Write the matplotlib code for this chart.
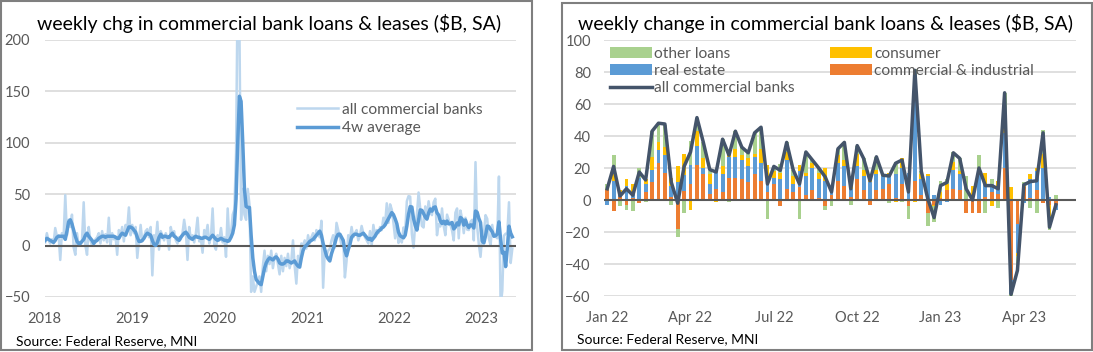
import matplotlib
matplotlib.use("Agg")
import matplotlib.pyplot as plt
from matplotlib.patches import Rectangle
import numpy as np
import pandas as pd

plt.rcParams['font.family'] = ['Lato', 'DejaVu Sans']

# left chart: weekly change in loans & leases, all commercial banks ($B), from 2018-01-03
raw_2018_2021 = [
    3, 12, 5, 2, 6, 2, 17, 9, 10, -14,
    12, 8, 49, 10, 25, 18, 30, -2, -9, 12,
    0, 2, 5, 42, 0, -9, 18, 5, 0, 3,
    6, 8, 12, 2, 14, 5, 11, 3, 27, 0,
    12, 6, 9, -9, 15, 10, 18, 4, 20, 16,
    37, 10, 20, 12, 18, -12, 5, 20, 4, 8,
    14, 16, 8, 18, -29, 10, 4, 23, -4, 14,
    10, 5, 12, 8, -4, 18, 10, 14, 5, 2,
    8, 6, 12, 25, 14, -14, 18, 6, 10, 3,
    12, 27, 4, 6, -7, 15, 10, 20, 2, 8,
    36, 0, -4, 10, 5, 17, 3, 8, -11, 36,
    4, 12, 30, 35, 90, 260, 215, 25, 55, 30,
    25, 55, 40, -45, -30, -45, -40, -35, -30, -45,
    -20, -5, -25, -10, -18, -5, -22, -12, -8, -18,
    -28, -10, -25, -12, -20, -8, -22, -15, 5, -20,
    -37, -10, -18, 2, 0, 5, -3, 10, 2, 8,
    12, 5, 15, 12, 8, 24, -41, -5, -10, -5,
    -3, 5, 10, -2, 22, 15, 8, 0, 5, -31,
    -15, 10, 5, 18, 8, 12, 15, 5, 10, 19,
    12, 8, 5, 2, 14, 0, 20, 10, 15, 12,
    18, 15, 27, 20, 41, 22, 40, 35, 22,
]
avg_4w = [
    5, 7, 6, 5, 4, 3, 5, 8, 9, 9,
    9, 9, 6, 14, 23, 25, 21, 15, 9, 4,
    2, 2, 4, 6, 10, 12, 9, 7, 5, 2,
    4, 5, 7, 8, 9, 9, 8, 9, 9, 9,
    9, 9, 8, 7, 7, 10, 12, 11, 10, 14,
    18, 18, 17, 15, 13, 8, 4, 4, 5, 7,
    10, 12, 11, 10, 5, 1, 0, 3, 8, 11,
    8, 9, 9, 8, 8, 10, 12, 9, 8, 6,
    5, 8, 10, 12, 13, 11, 8, 7, 6, 8,
    9, 8, 8, 7, 7, 8, 8, 7, 6, 8,
    10, 8, 6, 5, 6, 7, 6, 5, 5, 4,
    5, 8, 12, 20, 45, 100, 145, 140, 100, 55,
    38, 37, 37, 10, -12, -25, -33, -35, -37, -38,
    -30, -22, -17, -14, -12, -13, -14, -12, -11, -13,
    -17, -18, -18, -17, -15, -15, -16, -17, -16, -15,
    -18, -20, -21, -12, -5, -1, 0, 2, 4, 5,
    6, 8, 10, 12, 14, 10, 2, -4, -10, -13,
    -15, -8, -3, 2, 8, 11, 11, 8, 5, -5,
    -10, -4, 1, 8, 10, 11, 11, 10, 10, 11,
    12, 10, 8, 6, 7, 5, 7, 9, 12, 14,
    15, 17, 18, 20, 23, 26, 29, 32, 30,
    26, 21.3, 13.1,
    9.4, 8.4, 7.5, 10, 19, 30.3, 37.8, 37.4, 26.1, 19.4,
    15, 25.1, 34.6, 34.1, 31, 27.6, 25.6, 31.6, 35.5, 33.4,
    36.9, 37.5, 31.8, 29.6, 23.8, 21.4, 23.6, 20.9, 23.8, 21,
    21.3, 22.4, 16.1, 17.9, 21.9, 20, 27.3, 25.8, 19.8, 24.8,
    20.1, 17.4, 20.1, 19.6, 17, 33.5, 32.3, 26.3, 22.3, 4.3,
    2.5, 9.6, 18.9, 18.4, 15.6, 13.3, 9, 9.5, 11.3, 23,
    6, -7.3, -6.6, -20.5, -2.8, 18.8, 12.1, 8.5,
]
left_years = [2018, 2019, 2020, 2021, 2022, 2023]

# right chart: weekly change by loan type ($B), from 2022-01-05
all_banks = [
    7, 21, 2.5, 7, 3, 17.5, 12.5, 43, 48, 47.5,
    11, -2, 21, 30, 51.5, 36, 19, 17.5, 38, 28,
    43, 33, 29.5, 42, 45.5, 10, 21, 18.5, 36, 19,
    10, 30, 25, 20, 14.5, 5, 32, 36, 7, 34,
    26, 12, 27, 15.5, 15, 23, 25, 5, 81, 18,
    1, -11, 9, 11, 29.5, 26, 7, 0, 20, 9,
    9, 7, 67, -59, -44, 9.5, 11.5, 12, 42, -17, -3,
]
ci_loans = [
    6, -7, 2, -3, 1, -2, 5, 11, 23, 17,
    2, -18, 5.5, 10, 22, 16, 4, 7, 5, 14,
    14, 13, 11, 16, 12, 5, 10, -4, 7, 5,
    8, 3, 6, 1, -4, 3, 12, 9, 2, 13,
    6, -3, 6, 7, 10, 1, 10, -4, 12, 3,
    -8, -3, 1, 6, 7, 6, -8, -8, -8, 2,
    5, 4, 20, -50, -15, 8, 1, 6, -2, -3, -3,
]
real_estate = [
    -3, 12, 3, 9, 3, 14, 5, 8, 8, 11,
    7, 11, 10, 12, 12, 4, 6, 10, 11, 13,
    13, 12, 10, 11, 11, 5, 4, 13, 18, 5,
    10, 12, 14, 12, 12, 4, 11, 12, 5, 8,
    9, 11, 10, 8, 5, 15, 10, 17, 66, 10,
    15, 3, -3, -1, 12, 10, 0, 3, 18, 8,
    5, 5, 22, -9, -18, -2, 12, 12, 20, 2, -3,
]
consumer = [
    1, 4, 1, 4, 6, 0, 3, 8, 5, 5,
    5, 10, 13, -6, 9, 6, 6, -1, 5, 2,
    5, 3, 5, 2, 9, 12, 4, 4, 5, 5,
    4, 2, 3, 4, 8, 2, 5, 4, 3, 8,
    4, 2, 3, 1, 2, -1, 6, 0, -1, 3,
    1, -1, 4, 4, 5, 2, 0, 6, 2, 7,
    -4, 3, 3, 8, -2, 1, 3, 2, 9, -7, 0,
]
other_loans = [
    3, 12, -4, -3, -7, 6, -1, 16, 12, 14,
    -3, -5, -8, 15, 8, 10, 2, 1.5, 17, -1,
    11, 5, 4, 13, 13, -12, 3, 5.5, 6, 4,
    -12, 13, 2, 3, -2, -4, 4, 11, -3, 5,
    7, 2, 8, -0.5, -2, 8, -1, -8, 4, 2,
    -8, -10, 7, 3, 6, 8, 15, 0, 8, -8,
    3, -5, 22, -8, -9, 2, -5, -8, 15, -9, 3,
]
right_labels = ["Jan 22", "Apr 22", "Jul 22", "Oct 22", "Jan 23", "Apr 23"]
right_label_pos = [0, 13, 26, 39, 52, 65]

GRID = '#D9D9D9'
AXIS = '#595959'
TXT = '#595959'
W, H = 1093, 352


def fx(px):
    return px / W


def fy(py):
    return 1 - py / H


def style_axes(ax, ypad):
    for s in ax.spines.values():
        s.set_visible(False)
    ax.tick_params(length=0, labelsize=10.5, labelcolor=TXT)
    ax.tick_params(axis='y', pad=ypad)
    ax.tick_params(axis='x', pad=10.5)
    ax.grid(axis='y', color=GRID, linewidth=1.2, zorder=0)
    ax.set_axisbelow(True)
    ax.axhline(0, color=AXIS, linewidth=1.5, zorder=2.5)


fig = plt.figure(figsize=(W / 100, H / 100), dpi=100)

# panel frames
fig.patches.append(Rectangle((fx(1), fy(350)), fx(531), 349 / H, transform=fig.transFigure,
                             fill=False, edgecolor='#7F7F7F', linewidth=1.5))
fig.patches.append(Rectangle((fx(561.5), fy(349.5)), fx(530), 347 / H, transform=fig.transFigure,
                             fill=False, edgecolor='#7F7F7F', linewidth=1.5))

# ---------------- left chart
ax1 = fig.add_axes([fx(44.7), fy(297), fx(516.4 - 44.7), (297 - 39.6) / H])
raw_all = raw_2018_2021 + all_banks
dates = pd.date_range('2018-01-03', periods=len(raw_all), freq='7D')
ax1.plot(dates, raw_all, color='#BDD7EE', linewidth=1.8, zorder=2,
         solid_joinstyle='round', label='all commercial banks')
ax1.plot(dates[:len(avg_4w)], avg_4w, color='#5B9BD5', linewidth=2.5, zorder=3,
         solid_joinstyle='round', label='4w average')
ax1.set_xlim(pd.Timestamp('2018-01-01'), pd.Timestamp('2023-05-27'))
ax1.set_ylim(-50, 200)
ax1.set_yticks(np.arange(-50, 201, 50))
ax1.set_xticks([pd.Timestamp(f'{y}-01-01') for y in left_years])
ax1.set_xticklabels([str(y) for y in left_years])
style_axes(ax1, 10.5)
ax1.legend(loc='upper left', bbox_to_anchor=(fx(297.3), fy(102.5)), bbox_transform=fig.transFigure,
           frameon=False, fontsize=11.2, labelcolor=TXT, handlelength=2.63, handletextpad=0.23,
           borderpad=0, borderaxespad=0, labelspacing=0.32)

fig.text(fx(268.7), fy(23.3), 'weekly chg in commercial bank loans & leases ($B, SA)',
         ha='center', va='center', fontsize=14, color='black')
fig.text(fx(15.7), fy(341.5), 'Source: Federal Reserve, MNI', ha='left', va='center',
         fontsize=10, color='black')

# ---------------- right chart
ax2 = fig.add_axes([fx(604), fy(296), fx(1076.4 - 604), (296 - 40) / H])
x = np.arange(len(all_banks))
pos = np.zeros(len(x))
neg = np.zeros(len(x))
bars = []
for vals, col, lab in [(ci_loans, '#ED7D31', 'commercial & industrial'),
                       (real_estate, '#5B9BD5', 'real estate'),
                       (consumer, '#FFC000', 'consumer'),
                       (other_loans, '#A9D18E', 'other loans')]:
    v = np.asarray(vals, dtype=float)
    bottom = np.where(v >= 0, pos, neg)
    bars.append(ax2.bar(x, v, 0.6, bottom=bottom, color=col, linewidth=0, zorder=2, label=lab))
    pos += np.clip(v, 0, None)
    neg += np.clip(v, None, 0)
line, = ax2.plot(x, all_banks, color='#44546A', linewidth=2.5, zorder=3,
                 solid_joinstyle='round', label='all commercial banks')
ax2.set_xlim(-0.5, 73.2)
ax2.set_ylim(-60, 100)
ax2.set_yticks(np.arange(-60, 101, 20))
ax2.set_xticks(right_label_pos)
ax2.set_xticklabels(right_labels)
style_axes(ax2, 9.5)
ci_bar, re_bar, cons_bar, oth_bar = bars
ax2.legend([oth_bar, re_bar, line, cons_bar, ci_bar],
           ['other loans', 'real estate', 'all commercial banks', 'consumer', 'commercial & industrial'],
           ncol=2, loc='upper left', bbox_to_anchor=(fx(609.5), fy(46.5)), bbox_transform=fig.transFigure,
           frameon=False, fontsize=11.2, labelcolor=TXT, handlelength=2.7, handleheight=0.77,
           handletextpad=0.17, columnspacing=2.24, borderpad=0, borderaxespad=0, labelspacing=0.2)

fig.text(fx(826), fy(23.3), 'weekly change in commercial bank loans & leases ($B, SA)',
         ha='center', va='center', fontsize=14, color='black')
fig.text(fx(577.4), fy(339.3), 'Source: Federal Reserve, MNI', ha='left', va='center',
         fontsize=10, color='black')

fig.savefig('out.png', dpi=100)
